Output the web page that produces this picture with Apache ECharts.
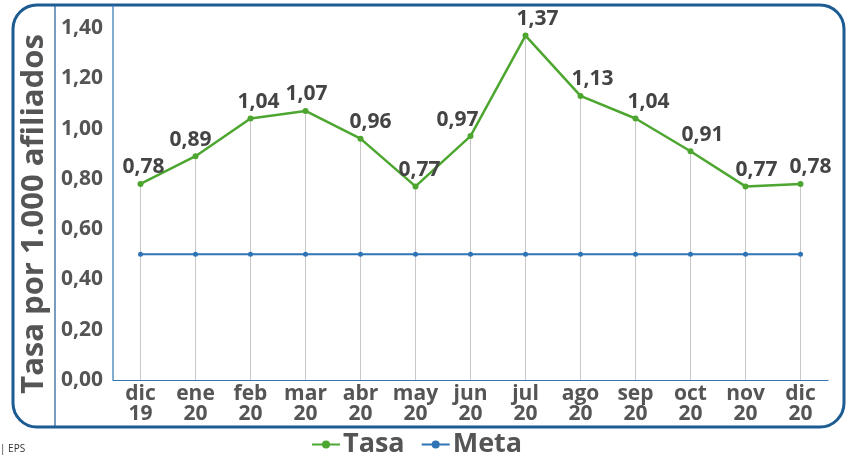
<!DOCTYPE html>
<html><head><meta charset="utf-8">
<script src="https://cdn.jsdelivr.net/npm/echarts@6/dist/echarts.min.js"></script>
<style>html,body{margin:0;padding:0;background:#fff}#c{width:854px;height:463px}</style>
</head><body><div id="c"></div>
<script>
const categories = ['dic\n19','ene\n20','feb\n20','mar\n20','abr\n20','may\n20','jun\n20','jul\n20','ago\n20','sep\n20','oct\n20','nov\n20','dic\n20'];
const tasa = [0.78,0.89,1.04,1.07,0.96,0.77,0.97,1.37,1.13,1.04,0.91,0.77,0.78];
const meta = [0.5,0.5,0.5,0.5,0.5,0.5,0.5,0.5,0.5,0.5,0.5,0.5,0.5];
const yTitle = 'Tasa por 1.000 afiliados';

// label horizontal nudges (style only)
const labelDx = [3,-5,8,1,10,4,-13,12,12,13,12,11,10];

const green = '#4ca62f', blue = '#2f74b5', border = '#1d5b93', txt = '#555';
const fmt = v => v.toFixed(2).replace('.', ',');
const chart = echarts.init(document.getElementById('c'));
chart.setOption({
  animation: false,
  textStyle: {fontFamily: 'Open Sans'},
  grid: {left: 113, right: 26, top: 28, bottom: 83, containLabel: false},
  legend: {
    bottom: 0, left: 306, itemWidth: 28, itemHeight: 10, itemGap: 16,
    data: ['Tasa', 'Meta'],
    textStyle: {fontFamily: "'Open Sans', sans-serif", fontWeight: 'bold', fontSize: 27, color: txt, padding: [0,0,0,-2]}
  },
  xAxis: {
    type: 'category', data: categories,
    axisLine: {lineStyle: {color: blue, width: 1.2}},
    axisTick: {show: false},
    axisLabel: {fontSize: 21, fontWeight: 'bold', color: txt, lineHeight: 20, margin: 4, interval: 0}
  },
  yAxis: {
    type: 'value', min: 0, max: 1.4, interval: 0.2,
    axisLine: {show: false},
    axisTick: {show: false},
    splitLine: {show: false},
    axisLabel: {fontSize: 21, fontWeight: 'bold', color: txt, margin: 10, formatter: fmt}
  },
  graphic: [
    {type: 'rect', shape: {x: 13, y: 5, width: 831, height: 422, r: 24}, style: {fill: 'none', stroke: border, lineWidth: 3}},
    {type: 'line', shape: {x1: 55, y1: 5, x2: 55, y2: 427}, style: {stroke: border, lineWidth: 1.2}},
    {type: 'line', shape: {x1: 113, y1: 5, x2: 113, y2: 380}, style: {stroke: blue, lineWidth: 1.2}},
    {type: 'text', x: 34, y: 214, rotation: Math.PI/2, style: {text: yTitle, font: 'bold 31px "Open Sans"', fill: txt, textAlign: 'center', textVerticalAlign: 'middle'}},
    {type: 'text', x: 0, y: 444, style: {text: '| EPS', font: '10px "Open Sans"', fill: '#333'}}
  ],
  series: [
    {name: 'drop', type: 'bar', data: tasa, barWidth: 1, itemStyle: {color: '#c8c8c8'}, silent: true, legendHoverLink: false, z: 1},
    {name: 'Tasa', type: 'line', color: green, symbol: 'circle', symbolSize: 6,
     data: tasa.map((v, i) => ({value: v, label: {offset: [labelDx[i], 0]}})),
     lineStyle: {width: 2.5, color: green}, itemStyle: {color: green}, z: 3,
     label: {show: true, position: 'top', distance: 3, fontSize: 21, fontWeight: 'bold', color: '#444', formatter: p => fmt(p.value)}},
    {name: 'Meta', type: 'line', data: meta, color: blue, symbol: 'circle', symbolSize: 5,
     lineStyle: {width: 2, color: blue}, itemStyle: {color: blue}, z: 2}
  ]
});
</script></body></html>
